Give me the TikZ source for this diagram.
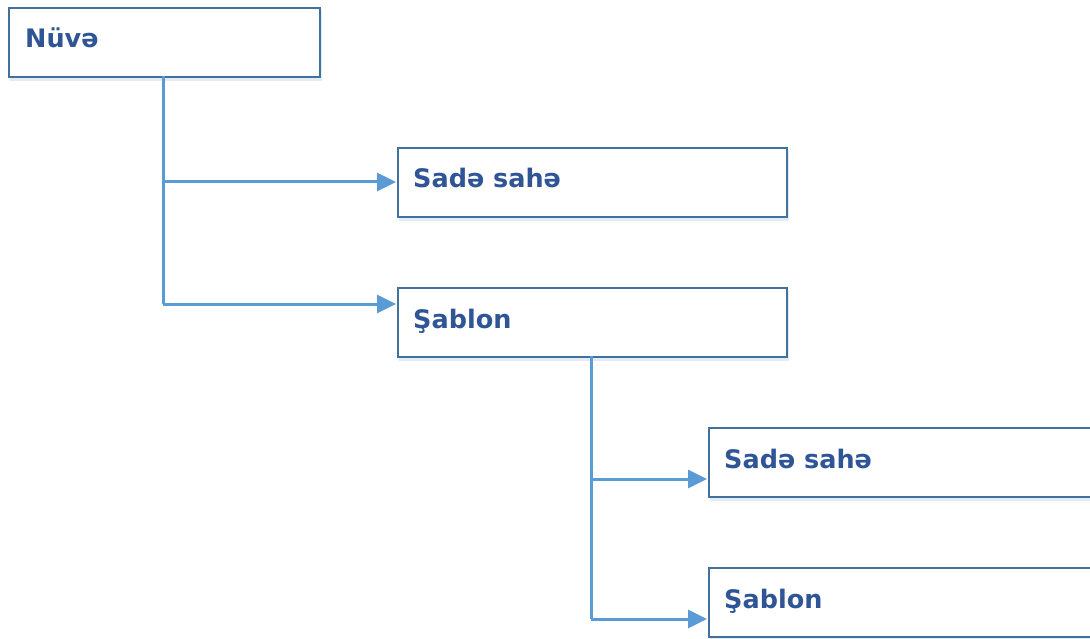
\documentclass[tikz,border=0pt]{standalone}
\usepackage{fontspec}
\setmainfont{DejaVu Sans}
\usetikzlibrary{arrows.meta,positioning}
\definecolor{boxline}{HTML}{41719C}
\definecolor{conn}{HTML}{5B9BD5}
\definecolor{txt}{HTML}{2F5597}
\definecolor{shad}{HTML}{D6E4F2}
\begin{document}
\begin{tikzpicture}[x=1pt,y=-1pt,
  box/.style={draw=boxline,line width=2pt,fill=white,rectangle,minimum height=69pt,inner sep=0pt,anchor=north west},
  lbl/.style={text=txt,font=\bfseries\fontsize{25.5}{30}\selectfont,anchor=base west,inner sep=0pt},
  conline/.style={draw=conn,line width=3pt},
  arr/.style={conline,-{Triangle[length=19pt 0,width=18pt 0]}}]
\useasboundingbox (0,0) rectangle (1090,639);
% shadows
\foreach \x/\y/\w in {8/7/311,397/147/389,397/287/389,708/427/400,708/567/400}
  \fill[shad,opacity=0.7] (\x+2,\y+3) rectangle (\x+\w+3,\y+74);
\node[box,minimum width=311pt] (n0) at (8,7) {};
\node[box,minimum width=389pt] (n1) at (397,147) {};
\node[box,minimum width=389pt] (n2) at (397,287) {};
\node[box,minimum width=400pt] (n3) at (708,427) {};
\node[box,minimum width=400pt] (n4) at (708,567) {};
\node[lbl] (t0) at (25,48) {Nüvə};
\node[lbl] (t1) at (413,188) {Sadə sahə};
\node[lbl] (t2) at (413,328) {Şablon};
\node[lbl] (t3) at (724,468) {Sadə sahə};
\node[lbl] (t4) at (724,608) {Şablon};
\coordinate (c0) at (163,76);
\coordinate (c1) at (591,356);
\draw[conline] (c0) -- (163,304);
\draw[arr] (163,182) -- (396,182);
\draw[arr] (163,304) -- (396,304);
\draw[conline] (c1) -- (591,619);
\draw[arr] (591,479) -- (707,479);
\draw[arr] (591,619) -- (707,619);
\end{tikzpicture}
\end{document}
